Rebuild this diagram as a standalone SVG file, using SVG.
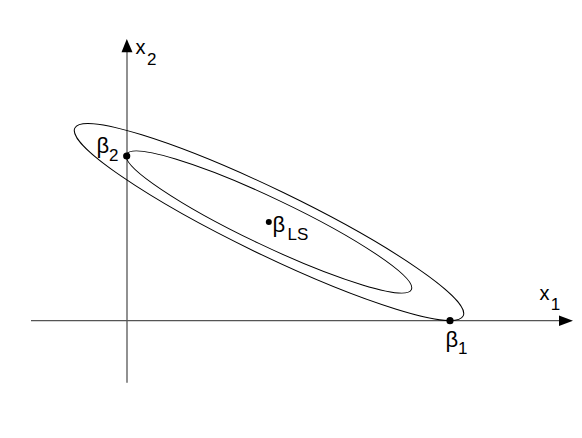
<svg xmlns="http://www.w3.org/2000/svg" width="582" height="438" viewBox="0 0 582 438">
<style>
.axis{stroke:#555;stroke-width:1.3;fill:none}
.ell{stroke:#000;stroke-width:1;fill:none}
.lbl{font-family:"Liberation Sans",Arial,sans-serif;font-size:20px;fill:#000}
.beta{font-size:22px}
.sub{font-size:17px}
.dot{fill:#000}
</style>
<rect width="582" height="438" fill="#fff"/>
<g id="connectors">
<line class="axis" x1="31" y1="320.7" x2="562" y2="320.7"/>
<polygon fill="#000" points="573,320.7 559,315.5 559,326"/>
<line class="axis" x1="127" y1="382.7" x2="127" y2="50"/>
<polygon fill="#000" points="126.8,39 121.5,52.3 132.5,52.3"/>
</g>
<g id="ellipse-outer">
<ellipse class="ell" cx="269" cy="222" rx="215.7" ry="32.7" transform="rotate(25.8 269 222)"/>
</g>
<g id="ellipse-inner">
<ellipse class="ell" cx="269" cy="222" rx="157.6" ry="23.7" transform="rotate(25.4 269 222)"/>
</g>
<g id="x2-label">
<text class="lbl" x="135.5" y="53.8">x<tspan class="sub" x="147" y="64.5">2</tspan></text>
</g>
<g id="x1-label">
<text class="lbl" x="539.5" y="300.3">x<tspan class="sub" x="550.8" y="310.3">1</tspan></text>
</g>
<g id="beta2">
<circle class="dot" cx="126.7" cy="156" r="3.6"/>
<text class="lbl beta" x="96.5" y="152.5">β<tspan class="sub" x="109" y="160.8">2</tspan></text>
</g>
<g id="beta1">
<circle class="dot" cx="450" cy="320.7" r="3.6"/>
<text class="lbl beta" x="445.5" y="346.5">β<tspan class="sub" x="458" y="353.5">1</tspan></text>
</g>
<g id="betaLS">
<circle class="dot" cx="268.8" cy="222" r="3"/>
<text class="lbl beta" x="272.5" y="232">β<tspan class="sub" x="287.5" y="239.8">LS</tspan></text>
</g>
</svg>
